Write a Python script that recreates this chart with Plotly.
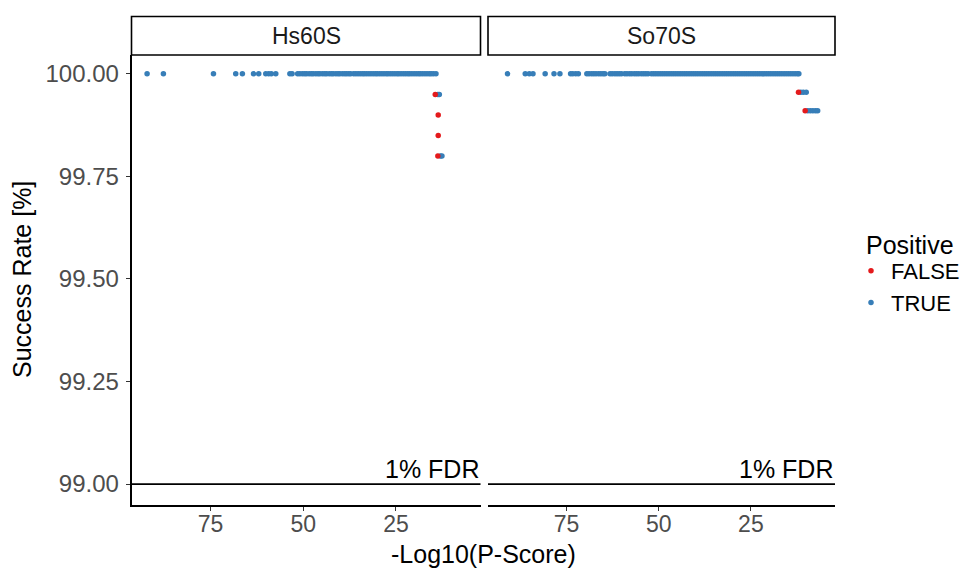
import plotly.graph_objects as go

# ---------------- data ----------------
panels = ["Hs60S", "So70S"]
y_ticks = [99.00, 99.25, 99.50, 99.75, 100.00]
x_ticks = [75, 50, 25]

# Hs60S, Positive = TRUE  (success rate -> list of -log10(P) values)
hs_true = {
    100.00: [92.1, 87.7, 74.2, 68.2, 66.4, 63.4, 62.0, 60.1, 59.3, 58.6, 57.4, 53.6, 53.0,
             51.5, 50.9, 50.2, 49.6, 49.1, 48.4, 47.8, 47.3, 46.6, 46.0, 45.5, 44.8, 44.2,
             43.7, 43.0, 42.4, 41.9, 41.2, 40.6, 40.1, 39.4, 38.8, 38.3, 37.7, 37.2,
             36.4, 35.8, 35.2, 34.6, 34.0, 33.5, 32.9, 32.3, 31.7, 31.1, 30.5, 30.0, 29.4,
             28.8, 28.2, 27.6, 27.1, 26.5, 25.9, 25.3, 24.7, 24.2, 23.6, 23.0, 22.4, 21.8,
             21.3, 20.7, 20.1, 19.5, 18.9, 18.4, 17.8, 17.2, 16.6, 16.0, 15.5, 14.9, 14.2],
    99.95: [13.7, 13.3],
    99.80: [13.0, 12.6],
}
# Hs60S, Positive = FALSE
hs_false = {
    99.95: [14.4],
    99.90: [13.6],
    99.85: [13.6],
    99.80: [13.7],
}
# So70S, Positive = TRUE
so_true = {
    100.00: [91.0, 86.2, 85.1, 84.1, 80.8, 78.4, 76.8, 73.9, 73.3, 72.5, 71.8,
             69.5, 68.9, 68.2, 67.6, 67.0, 66.3, 65.7, 65.1, 64.6,
             63.2, 62.6, 61.9, 61.3, 60.7, 60.1,
             59.2, 58.6, 57.9, 57.3, 56.6, 56.0, 55.4, 54.7, 54.1, 53.5, 52.9,
             52.0, 51.4, 50.8, 50.2, 49.6, 49.0, 48.4, 47.8, 47.2, 46.6, 46.0, 45.4,
             44.8, 44.2, 43.6, 43.0, 42.4, 41.8, 41.2, 40.6, 40.0, 39.4, 38.8, 38.2,
             37.6, 37.0, 36.4, 35.8, 35.2, 34.6, 34.0, 33.4, 32.8, 32.2, 31.6, 31.0,
             30.4, 29.8, 29.2, 28.6, 28.0, 27.4, 26.8, 26.2, 25.6, 25.0, 24.4, 23.8,
             23.2, 22.6, 22.0, 21.4, 20.8, 20.2, 19.6, 19.0, 18.4, 17.8, 17.2, 16.6,
             16.0, 15.4, 14.8, 14.2, 13.6, 13.0, 12.4, 12.0],
    99.955: [11.5, 10.8, 10.0],
    99.91: [9.6, 8.9, 8.2, 7.5, 6.9],
}
# So70S, Positive = FALSE
so_false = {
    99.955: [12.1],
    99.91: [10.3],
}

fdr_level = 99.0
fdr_label = "1% FDR"
legend_title = "Positive"

# ---------------- styling ----------------
FONT = "Liberation Sans, Arial, Helvetica, sans-serif"
RED = "#E41A1C"
BLUE = "#377EB8"
W, H = 968, 572

def flat(d):
    xs, ys = [], []
    for yv, xl in d.items():
        for xv in xl:
            xs.append(xv)
            ys.append(yv)
    return xs, ys

fig = go.Figure()

series = [
    (hs_true, "x", "TRUE", BLUE, True, 2),
    (so_true, "x2", "TRUE", BLUE, False, 2),
    (hs_false, "x", "FALSE", RED, True, 1),
    (so_false, "x2", "FALSE", RED, False, 1),
]
for d, xa, name, col, show, rank in series:
    xs, ys = flat(d)
    fig.add_trace(go.Scatter(
        x=xs, y=ys, xaxis=xa, yaxis="y", mode="markers", name=name,
        legendgroup=name, showlegend=show, legendrank=rank,
        marker=dict(color=col, size=5.5, line=dict(width=0)),
    ))

# panel geometry (pixels)
p1 = (131.5, 480.5)
p2 = (488.0, 835.0)
top_px, bot_px = 55.0, 505.0
strip_top_px = 16.5

dom1 = [p1[0] / W, p1[1] / W]
dom2 = [p2[0] / W, p2[1] / W]
ydom = [1 - bot_px / H, 1 - top_px / H]

xr = [96.3, 2.2]
yr = [98.949, 100.046]

tickfont = dict(family=FONT, size=23, color="#4D4D4D")
xcommon = dict(range=xr, tickvals=x_ticks, ticktext=[str(t) for t in x_ticks],
               showgrid=False, zeroline=False, showline=True, linecolor="black",
               linewidth=1.6, ticks="outside", ticklen=4, tickcolor="#333333",
               tickwidth=1.2, tickfont=tickfont, anchor="y", automargin=False,
               ticklabelstandoff=-6)

fig.update_layout(
    width=W, height=H,
    margin=dict(l=0, r=0, t=0, b=0, pad=0, autoexpand=False),
    plot_bgcolor="white", paper_bgcolor="white",
    font=dict(family=FONT, size=22, color="black"),
    xaxis=dict(domain=dom1, **xcommon),
    xaxis2=dict(domain=dom2, **xcommon),
    yaxis=dict(domain=ydom, range=yr, tickvals=y_ticks,
               ticktext=[f"{t:.2f}" for t in y_ticks],
               showgrid=False, zeroline=False, showline=True, linecolor="black",
               linewidth=1.6, ticks="outside", ticklen=4, tickcolor="#333333",
               tickwidth=1.2, tickfont=dict(family=FONT, size=24, color="#4D4D4D"),
               anchor="x", automargin=False, ticklabelstandoff=2),
    legend=dict(x=851 / W, y=1 - 250 / H, xanchor="left", yanchor="top",
                font=dict(family=FONT, size=22, color="black"),
                bgcolor="rgba(0,0,0,0)", tracegroupgap=0,
                itemwidth=30),
    showlegend=True,
)

shapes = []
annotations = []
for i, (dom, xa, name) in enumerate([(dom1, "x", panels[0]), (dom2, "x2", panels[1])]):
    # strip box
    shapes.append(dict(type="rect", xref="paper", yref="paper",
                       x0=dom[0], x1=dom[1], y0=1 - top_px / H, y1=1 - strip_top_px / H,
                       line=dict(color="black", width=1.6), fillcolor="white", layer="above"))
    annotations.append(dict(xref="paper", yref="paper", x=(dom[0] + dom[1]) / 2,
                            y=1 - (top_px + strip_top_px) / 2 / H, text=name, showarrow=False,
                            xanchor="center", yanchor="middle",
                            font=dict(family=FONT, size=23, color="#1A1A1A")))
    # FDR line
    shapes.append(dict(type="line", xref=f"{xa} domain", yref="y", x0=0, x1=1,
                       y0=fdr_level, y1=fdr_level, line=dict(color="black", width=1.6)))
    annotations.append(dict(xref=f"{xa} domain", yref="y", x=1.0, y=fdr_level,
                            text=fdr_label, showarrow=False, xanchor="right", yanchor="bottom",
                            yshift=-1, font=dict(family=FONT, size=25, color="black")))

# legend title
annotations.append(dict(xref="paper", yref="paper", x=864 / W, y=1 - 245 / H,
                        text=legend_title, showarrow=False, xanchor="left", yanchor="middle",
                        font=dict(family=FONT, size=25, color="black")))
# axis titles
annotations.append(dict(xref="paper", yref="paper", x=(p1[0] + p2[1]) / 2 / W, y=1 - 554 / H,
                        text="-Log10(P-Score)", showarrow=False, xanchor="center",
                        yanchor="middle", font=dict(family=FONT, size=25, color="black")))
annotations.append(dict(xref="paper", yref="paper", x=22 / W, y=1 - (top_px + bot_px) / 2 / H,
                        text="Success Rate [%]", showarrow=False, textangle=-90,
                        xanchor="center", yanchor="middle",
                        font=dict(family=FONT, size=25, color="black")))

fig.update_layout(shapes=shapes, annotations=annotations)
fig.write_html("out.html", config={"displayModeBar": False},
               post_script="document.body.style.margin='0';document.body.style.overflow='hidden';")
